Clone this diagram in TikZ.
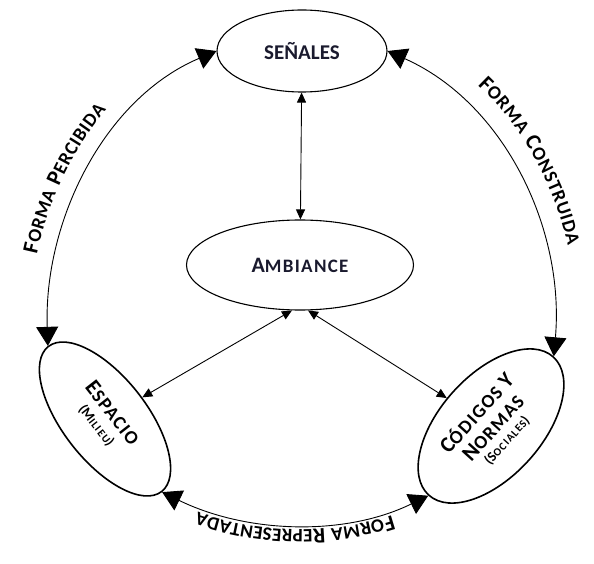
\documentclass[tikz,border=0pt]{standalone}
\usepackage{fontspec}
\setmainfont{Carlito}
\usepackage{tikz}
\usetikzlibrary{arrows.meta, shapes.geometric, decorations.text}
\definecolor{Ink}{HTML}{1A1A2E}
\newcommand{\capsz}{\bfseries\fontsize{22}{20}\selectfont}
\newcommand{\scsz}{\bfseries\fontsize{19}{20}\selectfont\addfontfeatures{LetterSpace=7}}
\newcommand{\tinycap}{\bfseries\fontsize{14}{20}\selectfont}
\newcommand{\tinysc}{\bfseries\fontsize{11}{20}\selectfont\addfontfeatures{LetterSpace=10}}

\begin{document}
\begin{tikzpicture}[
  x=1pt, y=1pt,
  font=\bfseries,
  bubble/.style={ellipse, draw=black, line width=1.1pt, inner sep=0pt, align=center, text=Ink},
  side/.style={bubble, line width=1.6pt, text=black, font=\bfseries\fontsize{18}{21}\selectfont},
  link/.style={{Triangle[length=10pt,width=9pt]}-{Triangle[length=10pt,width=9pt]}, line width=0.9pt},
  ring/.style={{Triangle[length=19pt,width=22pt]}-{Triangle[length=19pt,width=22pt]}, line width=0.9pt}
]
\useasboundingbox (0,0) rectangle (594,563);

\node[bubble, minimum width=170pt, minimum height=82pt] (senales) at (302,512) {\fontsize{21}{24}\selectfont SEÑALES};
\node[bubble, minimum width=227pt, minimum height=90pt] (ambiance) at (300,298) {\capsz A\scsz MBIANCE};
\node[side, minimum width=184pt, minimum height=84pt, rotate=-52] (espacio) at (105,144)
  {\capsz E\scsz SPACIO\\[-3pt] \tinycap(M\tinysc ILIEU\tinycap)};
\node[side, minimum width=186pt, minimum height=102pt, rotate=48] (codigos) at (491,137)
  {\capsz C\scsz ÓDIGOS \capsz Y\\[1pt] \capsz N\scsz ORMAS\\[-5pt] \tinycap(S\tinysc OCIALES\tinycap)};

% outer ring
\draw[ring] (espacio.west) to[out=92, in=203, looseness=0.93] (senales.west);
\draw[ring] (senales.east) to[out=-24, in=85, looseness=0.94] (codigos.east);
\draw[ring] (codigos.west) to[out=206, in=334, looseness=0.9] (espacio.east);

\path[decorate, decoration={text along path, text align={center, right indent=32pt}, raise=19pt,
  text={|\capsz|F|\scsz|ORMA |\capsz|P|\scsz|ERCIBIDA}}]
  (espacio.west) to[out=92, in=203, looseness=0.93] (senales.west);
\path[decorate, decoration={text along path, text align={center, right indent=16pt}, raise=22pt,
  text={|\capsz|F|\scsz|ORMA |\capsz|C|\scsz|ONSTRUIDA}}]
  (senales.east) to[out=-24, in=85, looseness=0.94] (codigos.east);
\path[decorate, decoration={text along path, text align=center, raise=5pt,
  text={|\capsz|F|\scsz|ORMA |\capsz|R|\scsz|EPRESENTADA}}]
  (codigos.west) to[out=206, in=334, looseness=0.9] (espacio.east);

% inner links
\draw[link] (senales) -- (ambiance);
\draw[link] (ambiance.260) -- (espacio);
\draw[link] (ambiance.280) -- (codigos);
\end{tikzpicture}
\end{document}
